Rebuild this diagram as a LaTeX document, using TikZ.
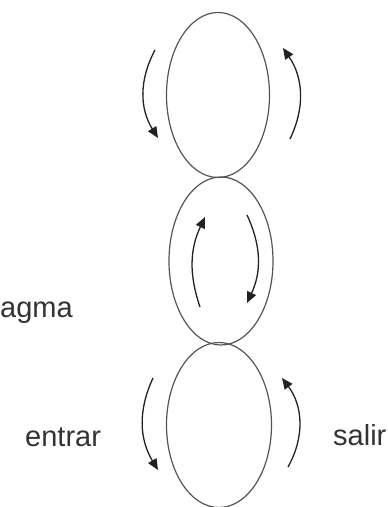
\documentclass[tikz,border=0pt]{standalone}
\usepackage{fontspec}
\setmainfont{Liberation Sans}
\usepackage{tikz}
\usetikzlibrary{arrows.meta,calc,shapes.geometric}
\definecolor{rim}{HTML}{555555}
\definecolor{ink}{HTML}{222222}
\definecolor{word}{HTML}{333333}
\tikzset{
  cell/.style={ellipse, draw=rim, line width=1.2pt, inner sep=0pt},
  turn/.style={-{Triangle[length=11pt,width=9.5pt]}, line width=1.3pt, ink},
  tag/.style={font=\fontsize{29}{32}\selectfont, text=word, inner sep=0pt, anchor=base west},
}
\begin{document}
\begin{tikzpicture}[x=1pt,y=1pt]
    \useasboundingbox (0,0) rectangle (388,507);
    \node[cell, minimum width=103pt, minimum height=165pt] (up) at (218,412) {};
    \node[cell, minimum width=104pt, minimum height=168pt] (mid) at (221,246) {};
    \node[cell, minimum width=105pt, minimum height=165pt] (low) at (219,82) {};

    \node[tag] (frag) at (0,189) {agma};
    \node[tag] (entrar) at (25,60) {entrar};
    \node[tag] (salir) at (333,61) {salir};

    % arrow ends, placed round each ellipse
    \coordinate (ua) at ($(up)+(-63,45)$); \coordinate (ub) at ($(up)+(-60,-43)$);
    \coordinate (uc) at ($(up)+(72,-44)$); \coordinate (ud) at ($(up)+(65,47)$);
    \coordinate (ma) at ($(mid)+(-21,-46)$); \coordinate (mb) at ($(mid)+(-16,44)$);
    \coordinate (mc) at ($(mid)+(26,46)$); \coordinate (md) at ($(mid)+(26,-42)$);
    \coordinate (la) at ($(low)+(-66,47)$); \coordinate (lb) at ($(low)+(-61,-45)$);
    \coordinate (lc) at ($(low)+(69,-42)$); \coordinate (ld) at ($(low)+(63,47)$);

    \draw[turn] (ua) to[bend right=30] (ub); \draw[turn] (uc) to[bend right=30] (ud);
    \draw[turn] (ma) to[bend left=22] (mb); \draw[turn] (mc) to[bend left=25] (md);
    \draw[turn] (la) to[bend right=28] (lb); \draw[turn] (lc) to[bend right=33] (ld);
\end{tikzpicture}
\end{document}
